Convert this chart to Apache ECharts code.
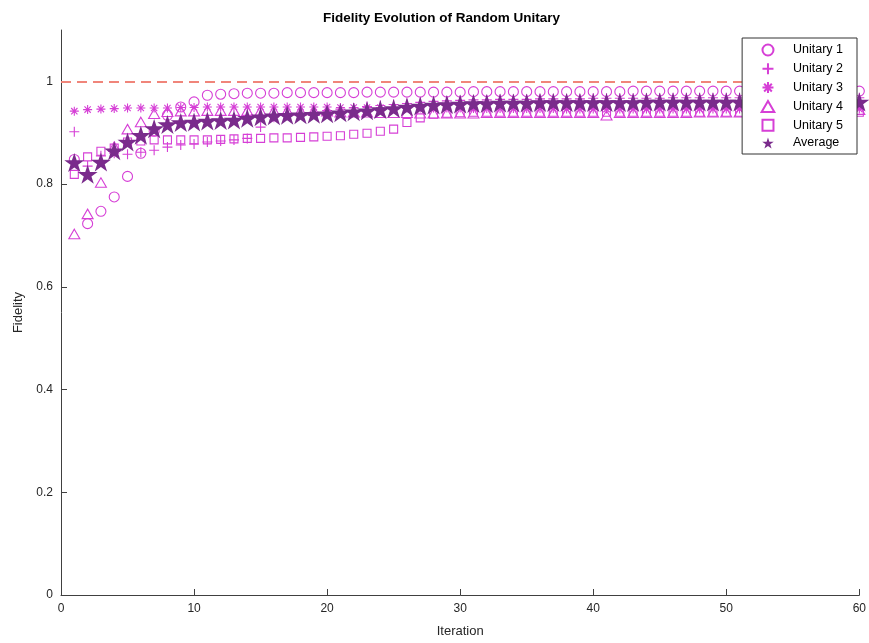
<!DOCTYPE html>
<html>
<head>
<meta charset="utf-8">
<title>Fidelity Evolution of Random Unitary</title>
<script src="https://cdn.jsdelivr.net/npm/echarts@6/dist/echarts.min.js"></script>
<style>
  html, body { margin: 0; padding: 0; background: #fff; }
  #chart { width: 869px; height: 643px; }
</style>
</head>
<body>
<div id="chart"></div>
<script>
// values, iteration 1..60
const unitary1 = [
  0.848, 0.723, 0.747, 0.775, 0.815, 0.860, 0.903, 0.934, 0.950, 0.960,
  0.973, 0.975, 0.976, 0.977, 0.977, 0.977, 0.978, 0.978, 0.978, 0.978,
  0.978, 0.978, 0.979, 0.979, 0.979, 0.979, 0.979, 0.979, 0.979, 0.979,
  0.980, 0.980, 0.980, 0.980, 0.980, 0.980, 0.980, 0.980, 0.980, 0.980,
  0.980, 0.980, 0.981, 0.981, 0.981, 0.981, 0.981, 0.981, 0.981, 0.981,
  0.981, 0.981, 0.981, 0.981, 0.981, 0.981, 0.981, 0.981, 0.981, 0.981
]
const unitary2 = [
  0.902, 0.835, 0.855, 0.860, 0.858, 0.862, 0.866, 0.872, 0.876, 0.878,
  0.882, 0.884, 0.886, 0.889, 0.911, 0.930, 0.934, 0.937, 0.940, 0.943,
  0.946, 0.948, 0.951, 0.953, 0.955, 0.957, 0.959, 0.961, 0.962, 0.963,
  0.964, 0.964, 0.965, 0.965, 0.965, 0.966, 0.966, 0.966, 0.966, 0.967,
  0.967, 0.967, 0.967, 0.967, 0.967, 0.968, 0.968, 0.968, 0.968, 0.968,
  0.968, 0.968, 0.968, 0.968, 0.968, 0.968, 0.968, 0.968, 0.968, 0.968
]
const unitary3 = [
  0.942, 0.945, 0.946, 0.947, 0.948, 0.948, 0.948, 0.948, 0.949, 0.949,
  0.950, 0.950, 0.950, 0.950, 0.950, 0.950, 0.950, 0.950, 0.950, 0.950,
  0.949, 0.949, 0.949, 0.949, 0.949, 0.948, 0.948, 0.948, 0.948, 0.948,
  0.947, 0.947, 0.947, 0.947, 0.947, 0.947, 0.947, 0.946, 0.946, 0.946,
  0.946, 0.946, 0.946, 0.946, 0.946, 0.946, 0.946, 0.946, 0.946, 0.946,
  0.946, 0.946, 0.946, 0.946, 0.946, 0.946, 0.946, 0.946, 0.946, 0.946
]
const unitary4 = [
  0.703, 0.742, 0.803, 0.873, 0.907, 0.921, 0.937, 0.941, 0.942, 0.942,
  0.943, 0.943, 0.943, 0.943, 0.943, 0.943, 0.943, 0.943, 0.943, 0.942,
  0.940, 0.940, 0.940, 0.939, 0.939, 0.939, 0.938, 0.938, 0.938, 0.938,
  0.938, 0.939, 0.939, 0.939, 0.939, 0.939, 0.939, 0.939, 0.939, 0.939,
  0.934, 0.939, 0.939, 0.939, 0.939, 0.939, 0.939, 0.940, 0.940, 0.940,
  0.940, 0.940, 0.941, 0.941, 0.941, 0.942, 0.942, 0.943, 0.944, 0.945
]
const unitary5 = [
  0.819, 0.853, 0.864, 0.870, 0.882, 0.884, 0.886, 0.886, 0.886, 0.886,
  0.886, 0.887, 0.888, 0.889, 0.889, 0.890, 0.890, 0.891, 0.892, 0.893,
  0.894, 0.897, 0.899, 0.903, 0.907, 0.920, 0.929, 0.936, 0.938, 0.939,
  0.940, 0.940, 0.940, 0.940, 0.940, 0.940, 0.940, 0.940, 0.940, 0.940,
  0.940, 0.940, 0.940, 0.940, 0.940, 0.940, 0.940, 0.940, 0.940, 0.940,
  0.940, 0.940, 0.940, 0.940, 0.940, 0.940, 0.940, 0.940, 0.940, 0.940
]
const average = [
  0.842, 0.819, 0.843, 0.865, 0.882, 0.895, 0.908, 0.916, 0.920, 0.921,
  0.923, 0.924, 0.925, 0.928, 0.931, 0.933, 0.934, 0.935, 0.936, 0.937,
  0.939, 0.941, 0.943, 0.945, 0.947, 0.950, 0.952, 0.954, 0.955, 0.956,
  0.957, 0.957, 0.958, 0.958, 0.958, 0.959, 0.959, 0.959, 0.959, 0.959,
  0.959, 0.959, 0.959, 0.960, 0.960, 0.960, 0.960, 0.960, 0.960, 0.960,
  0.960, 0.960, 0.960, 0.960, 0.960, 0.960, 0.960, 0.960, 0.960, 0.960
]
const targetFidelity = 1

const FONT = 'Liberation Sans, Arial, Helvetica, sans-serif'
const MAGENTA = '#d63fd6'
const PURPLE = '#7a2b8c'

// MATLAB-like marker outlines
const circlePath = 'path://M10,5A5,5,0,1,1,0,5A5,5,0,1,1,10,5Z'
const plusPath = 'path://M5,0L5,10M0,5L10,5'
const asteriskPath = 'path://M5,0L5,10M0,5L10,5M1.5,1.5L8.5,8.5M1.5,8.5L8.5,1.5'
const trianglePath = 'path://M5,0L10,8.66L0,8.66Z'
const squarePath = 'path://M0,0L10,0L10,10L0,10Z'
const starPath = 'path://M100,0L122.45,69.1L195.1,69.1L136.33,111.8L158.8,180.9L100,138.2L41.2,180.9L63.67,111.8L4.9,69.1L77.55,69.1Z'

const toPoints = (arr) => arr.map((v, i) => [i + 1, v])

const chart = echarts.init(document.getElementById('chart'))

const hollow = (name, data, symbol, size) => ({
  name,
  type: 'scatter',
  data: toPoints(data),
  symbol,
  symbolSize: size,
  symbolKeepAspect: true,
  itemStyle: { color: 'none', borderColor: MAGENTA, borderWidth: 1.1, opacity: 1 },
  emphasis: { disabled: true },
  z: 2
})

const option = {
  animation: false,
  textStyle: { fontFamily: FONT },
  title: {
    text: 'Fidelity Evolution of Random Unitary',
    left: 318,
    top: 6,
    textStyle: { fontSize: 13.5, fontWeight: 'bold', color: '#000', fontFamily: FONT }
  },
  grid: { left: 61, right: 9, top: 30, bottom: 46 },
  xAxis: {
    type: 'value',
    min: 0,
    max: 60,
    interval: 10,
    name: 'Iteration',
    nameLocation: 'middle',
    nameGap: 30,
    nameTextStyle: { fontSize: 13, color: '#262626' },
    axisLine: { lineStyle: { color: '#404040' } },
    axisTick: { inside: true, length: 6, lineStyle: { color: '#404040' } },
    axisLabel: { fontSize: 12, color: '#262626', margin: 8 },
    splitLine: { show: false }
  },
  yAxis: {
    type: 'value',
    min: 0,
    max: 1.1,
    interval: 0.2,
    name: 'Fidelity',
    nameLocation: 'middle',
    nameGap: 36,
    nameTextStyle: { fontSize: 13, color: '#262626' },
    axisLine: { show: true, lineStyle: { color: '#404040' } },
    axisTick: { show: true, inside: true, length: 6, lineStyle: { color: '#404040' } },
    axisLabel: { fontSize: 12, color: '#262626', margin: 8, showMaxLabel: false },
    splitLine: { show: false }
  },
  legend: {
    orient: 'vertical',
    right: 12,
    top: 38,
    backgroundColor: '#fff',
    borderColor: '#333',
    borderWidth: 1,
    borderRadius: 0,
    padding: [4, 14, 4, 17],
    itemWidth: 22,
    itemHeight: 11,
    itemGap: 2.8,
    z: 10,
    textStyle: { fontSize: 12.5, lineHeight: 14, color: '#000', padding: [0, 0, 0, 9] },
    data: ['Unitary 1', 'Unitary 2', 'Unitary 3', 'Unitary 4', 'Unitary 5', 'Average']
  },
  series: [
    hollow('Unitary 1', unitary1, circlePath, 10),
    hollow('Unitary 2', unitary2, plusPath, 10),
    hollow('Unitary 3', unitary3, asteriskPath, 9),
    hollow('Unitary 4', unitary4, trianglePath, 11),
    hollow('Unitary 5', unitary5, squarePath, 8),
    {
      name: 'Average',
      type: 'scatter',
      data: toPoints(average),
      symbol: starPath,
      symbolKeepAspect: true,
      symbolSize: 20,
      itemStyle: { color: PURPLE, opacity: 1 },
      emphasis: { disabled: true },
      z: 3,
      markLine: {
        silent: true,
        symbol: 'none',
        label: { show: false },
        lineStyle: { color: '#f0857a', width: 2, type: [10, 6] },
        data: [{ yAxis: targetFidelity }]
      }
    }
  ]
}

chart.setOption(option)
</script>
</body>
</html>
